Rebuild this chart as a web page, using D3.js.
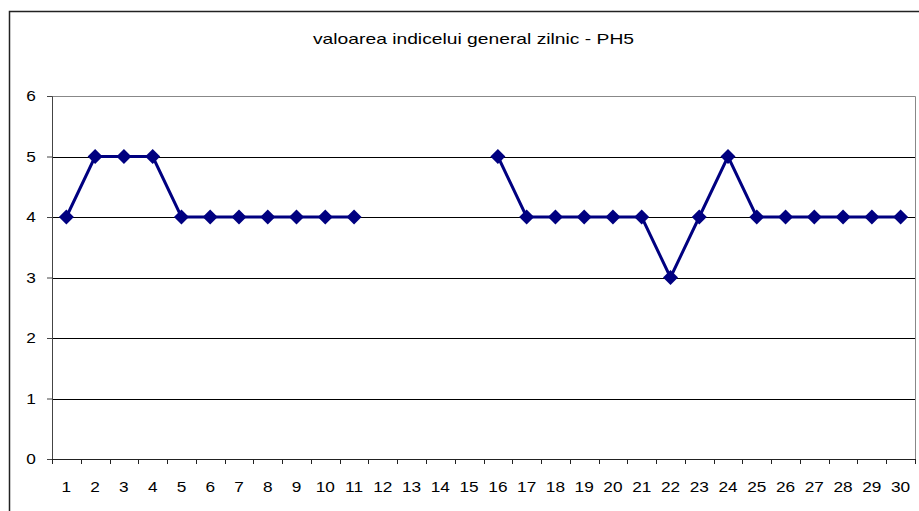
<!DOCTYPE html>
<html><head><meta charset="utf-8">
<script src="https://cdn.jsdelivr.net/npm/d3@7"></script>
<style>body{margin:0;background:#fff}svg{display:block;font-family:"Liberation Sans",Arial,sans-serif}</style>
</head><body>
<script>
const categories = d3.range(1, 31).map(String);
const values = [4,5,5,5,4,4,4,4,4,4,4,null,null,null,null,5,4,4,4,4,4,3,4,5,4,4,4,4,4,4];
const yTicks = [0,1,2,3,4,5,6];
const title = "valoarea indicelui general zilnic - PH5";

const W = 919, H = 511;
const FONT = "'Liberation Sans', Arial, sans-serif";
const svg = d3.select("body").append("svg").attr("width", W).attr("height", H);
const m = {l: 52, r: 915, t: 96, b: 459};

// outer frame
svg.append("path").attr("d", `M9.5,${H+2} V11.5 H${W+2}`).attr("fill","none").attr("stroke","#222").attr("stroke-width",1.5);

const x = d3.scaleBand().domain(categories).range([m.l, m.r]);
const y = d3.scaleLinear().domain([0, 6]).range([m.b, m.t]);

// gridlines
svg.append("g").selectAll("line").data(yTicks.filter(d => d > 0 && d < 6)).join("line")
  .attr("x1", m.l).attr("x2", m.r).attr("y1", d => Math.round(y(d)) + 0.5).attr("y2", d => Math.round(y(d)) + 0.5)
  .attr("stroke", "#000").attr("stroke-width", 1);

// plot border top/right (gray)
svg.append("path").attr("d", `M${m.l},${Math.round(y(6))+0.5} H${m.r+0.5} V${m.b}`).attr("fill","none").attr("stroke","#888").attr("stroke-width",1);

// y axis
const yAxis = d3.axisLeft(y).tickValues(yTicks).tickFormat(d3.format("d")).tickSize(5).tickPadding(9);
const gy = svg.append("g").attr("transform", `translate(${m.l},0)`).call(yAxis);
gy.select(".domain").attr("stroke", "#444");
gy.selectAll(".tick line").attr("stroke", "#444");
gy.selectAll(".tick text").attr("font-size", 15).attr("fill", "#000").attr("font-family", FONT)
  .attr("transform", "scale(1.15,1)").attr("dy", "0.3em");

// x axis
const xAxis = d3.axisBottom(x).tickSize(0).tickPadding(22);
const gx = svg.append("g").attr("transform", `translate(0,${m.b})`).call(xAxis);
gx.select(".domain").remove();
gx.selectAll(".tick text").attr("font-size", 15).attr("fill", "#000").attr("font-family", FONT)
  .attr("transform", "scale(1.15,1)").attr("dy", "0.72em");
svg.append("line").attr("x1", m.l).attr("x2", m.r + 0.5).attr("y1", m.b + 0.5).attr("y2", m.b + 0.5).attr("stroke", "#222");
svg.append("g").selectAll("line").data(categories.concat(["end"])).join("line")
  .attr("x1", (d, i) => Math.round(m.l + i * x.step()) + 0.5)
  .attr("x2", (d, i) => Math.round(m.l + i * x.step()) + 0.5)
  .attr("y1", m.b).attr("y2", m.b + 5).attr("stroke", "#222");

// title
svg.append("text").attr("x", 473.5).attr("y", 44).attr("text-anchor", "middle").attr("font-size", 15)
  .attr("font-family", FONT).attr("textLength", 321).attr("lengthAdjust", "spacingAndGlyphs").text(title);

// line
const pts = categories.map((c, i) => ({c, v: values[i]}));
const line = d3.line().defined(d => d.v != null).x(d => x(d.c) + x.bandwidth() / 2).y(d => y(d.v));
svg.append("path").datum(pts).attr("d", line).attr("fill", "none").attr("stroke", "#000080").attr("stroke-width", 3);

// markers
const s = 7.5;
svg.append("g").selectAll("path").data(pts.filter(d => d.v != null)).join("path")
  .attr("d", d => { const cx = x(d.c) + x.bandwidth() / 2, cy = y(d.v); return `M${cx},${cy - s}L${cx + s},${cy}L${cx},${cy + s}L${cx - s},${cy}Z`; })
  .attr("fill", "#000080");
</script>
</body></html>
